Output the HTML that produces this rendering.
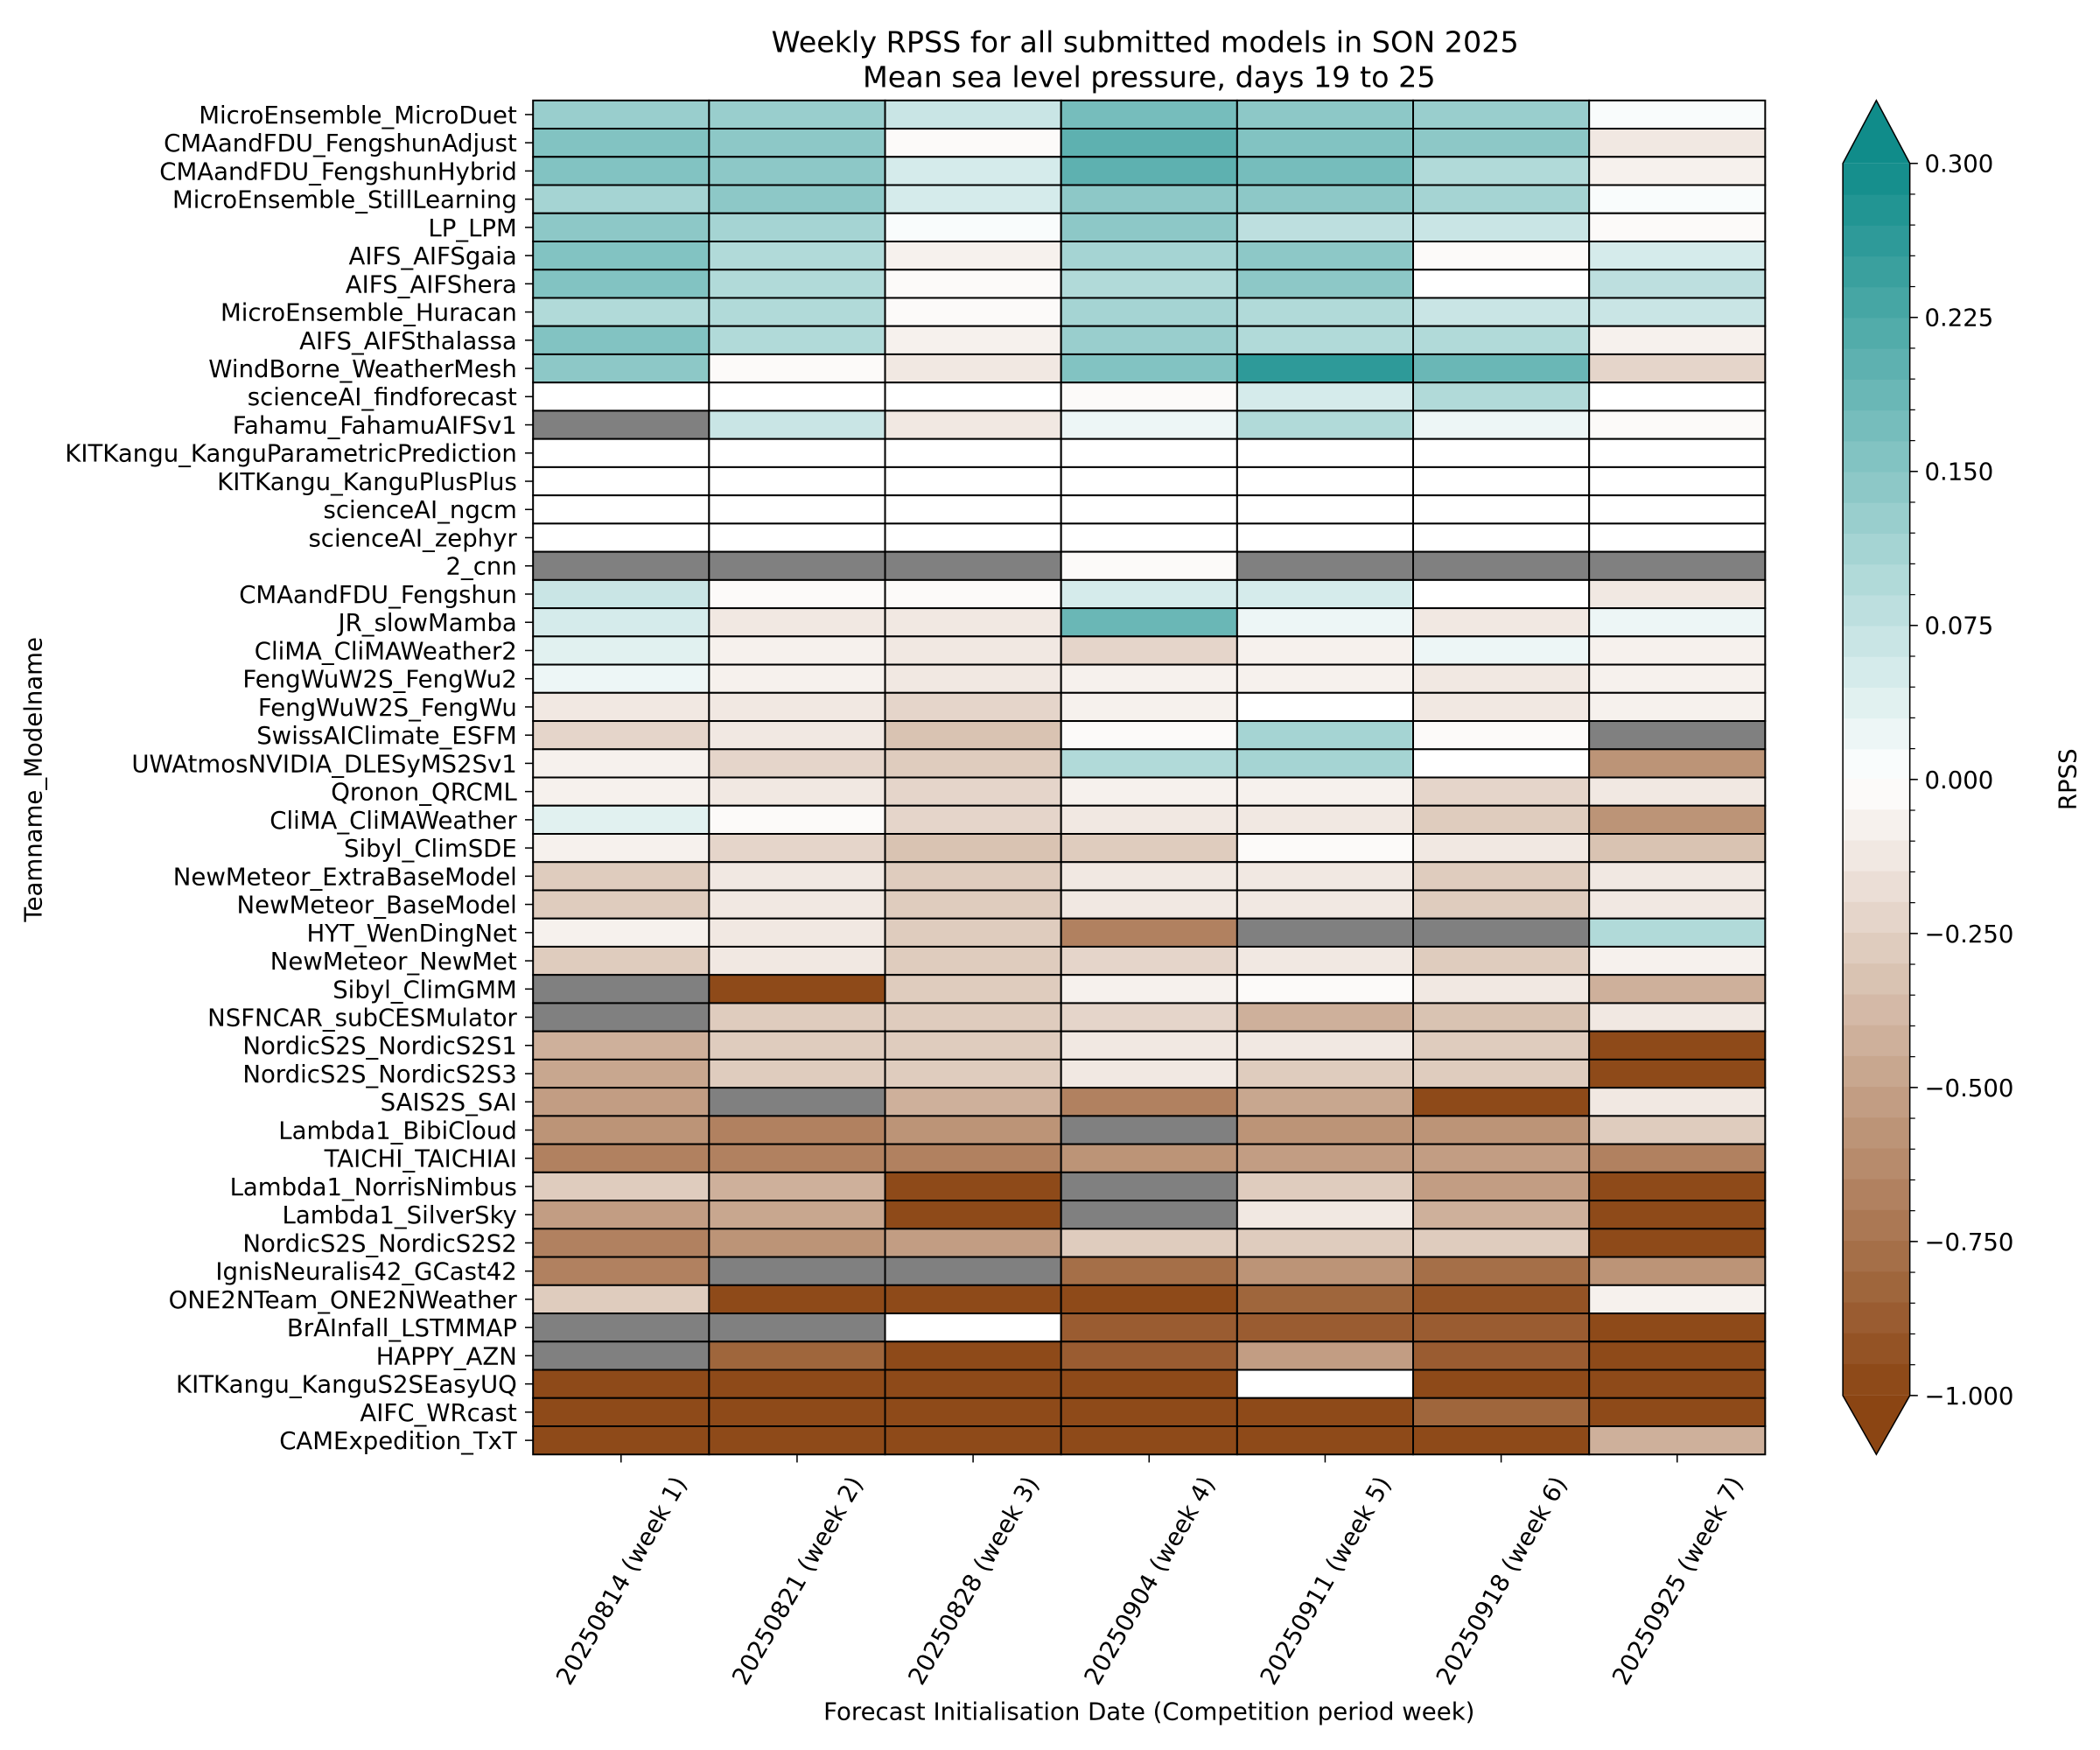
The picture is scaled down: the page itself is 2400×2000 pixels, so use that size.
<!DOCTYPE html>
<html><head><meta charset="utf-8"><style>
html,body{margin:0;padding:0;background:#fff;}
svg{display:block;font-family:"DejaVu Sans","Liberation Sans",sans-serif;}
</style></head><body>
<svg id="s" xmlns="http://www.w3.org/2000/svg" width="2400" height="2000" viewBox="0 0 1568 1306.67">
<rect width="1568" height="1306.67" fill="#fff"/>
<text x="855" y="39" font-size="21.8" text-anchor="middle">Weekly RPSS for all submitted models in SON 2025</text>
<text x="858" y="65" font-size="21.8" text-anchor="middle">Mean sea level pressure, days 19 to 25</text>
<text x="858" y="1284" font-size="18" text-anchor="middle">Forecast Initialisation Date (Competition period week)</text>
<text transform="translate(31,582) rotate(-90)" font-size="18" text-anchor="middle">Teamname_Modelname</text>
<text transform="translate(1550,582) rotate(-90)" font-size="18" text-anchor="middle">RPSS</text>
<g id="g"></g>
</svg>
<script>
var N=null;
var names=["MicroEnsemble_MicroDuet","CMAandFDU_FengshunAdjust","CMAandFDU_FengshunHybrid","MicroEnsemble_StillLearning","LP_LPM","AIFS_AIFSgaia","AIFS_AIFShera","MicroEnsemble_Huracan","AIFS_AIFSthalassa","WindBorne_WeatherMesh","scienceAI_findforecast","Fahamu_FahamuAIFSv1","KITKangu_KanguParametricPrediction","KITKangu_KanguPlusPlus","scienceAI_ngcm","scienceAI_zephyr","2_cnn","CMAandFDU_Fengshun","JR_slowMamba","CliMA_CliMAWeather2","FengWuW2S_FengWu2","FengWuW2S_FengWu","SwissAIClimate_ESFM","UWAtmosNVIDIA_DLESyMS2Sv1","Qronon_QRCML","CliMA_CliMAWeather","Sibyl_ClimSDE","NewMeteor_ExtraBaseModel","NewMeteor_BaseModel","HYT_WenDingNet","NewMeteor_NewMet","Sibyl_ClimGMM","NSFNCAR_subCESMulator","NordicS2S_NordicS2S1","NordicS2S_NordicS2S3","SAIS2S_SAI","Lambda1_BibiCloud","TAICHI_TAICHIAI","Lambda1_NorrisNimbus","Lambda1_SilverSky","NordicS2S_NordicS2S2","IgnisNeuralis42_GCast42","ONE2NTeam_ONE2NWeather","BrAInfall_LSTMMAP","HAPPY_AZN","KITKangu_KanguS2SEasyUQ","AIFC_WRcast","CAMExpedition_TxT"];
var V=[
[.12,.13,.06,.17,.14,.13,.01],
[.15,.14,-.02,.2,.15,.14,-.12],
[.15,.14,.05,.2,.17,.1,-.06],
[.11,.14,.05,.14,.14,.11,.01],
[.14,.11,.01,.14,.08,.06,-.02],
[.16,.1,-.06,.11,.14,-.02,.05],
[.16,.09,-.03,.1,.14,0,.08],
[.09,.09,-.03,.11,.09,.06,.06],
[.16,.1,-.05,.12,.1,.1,-.05],
[.14,-.03,-.1,.16,.26,.18,-.22],
[0,0,0,-.03,.05,.09,0],
[N,.06,-.1,.02,.1,.02,-.02],
[0,0,0,0,0,0,0],[0,0,0,0,0,0,0],[0,0,0,0,0,0,0],[0,0,0,0,0,0,0],
[N,N,N,-.03,N,N,N],
[.07,-.03,-.03,.05,.05,0,-.1],
[.05,-.1,-.1,.18,.02,-.1,.02],
[.03,-.05,-.12,-.2,-.05,.02,-.07],
[.02,-.08,-.15,-.05,-.08,-.15,-.08],
[-.12,-.15,-.2,-.05,0,-.12,-.08],
[-.2,-.15,-.35,-.03,.11,-.03,N],
[-.07,-.2,-.25,.09,.11,0,-.6],
[-.05,-.1,-.2,-.08,-.05,-.2,-.15],
[.04,-.02,-.2,-.15,-.1,-.25,-.55],
[-.07,-.2,-.35,-.25,-.03,-.15,-.35],
[-.3,-.15,-.3,-.15,-.15,-.25,-.1],
[-.25,-.15,-.3,-.15,-.15,-.25,-.1],
[-.05,-.15,-.3,-.65,N,N,.09],
[-.3,-.15,-.3,-.2,-.15,-.25,-.05],
[N,-1,-.3,-.05,-.02,-.1,-.4],
[N,-.3,-.25,-.2,-.4,-.35,-.1],
[-.4,-.3,-.25,-.1,-.15,-.3,-1],
[-.45,-.25,-.25,-.15,-.25,-.3,-1],
[-.5,N,-.4,-.7,-.45,-1,-.1],
[-.6,-.65,-.55,N,-.55,-.6,-.3],
[-.65,-.65,-.65,-.6,-.5,-.5,-.7],
[-.25,-.4,-1,N,-.25,-.5,-1],
[-.5,-.45,-1,N,-.1,-.4,-1],
[-.7,-.55,-.5,-.3,-.3,-.3,-1],
[-.7,N,N,-.75,-.55,-.75,-.6],
[-.25,-1,-1,-1,-.8,-.9,-.07],
[N,N,0,-.85,-.85,-.85,-1],
[N,-.8,-1,-.85,-.5,-.85,-1],
[-1,-1,-1,-1,0,-1,-1],
[-1,-1,-1,-1,-1,-.8,-1],
[-1,-1,-1,-1,-1,-1,-.4]];
var T=[16,140,138],B=[139,69,19];
function mix(c,t){return 'rgb('+[0,1,2].map(function(i){return Math.round(255+(c[i]-255)*t)}).join(',')+')';}
function col(v){
 if(v===null)return '#808080';
 if(v===0)return '#ffffff';
 if(v>0){var k=Math.min(19,Math.floor(v/0.015));return mix(T,(k+0.5)/20);}
 var k=Math.min(19,Math.floor(-v/0.05));return mix(B,(k+0.5)/20);
}
var h='';
var x0=398,x1=1318,y0=75,y1=1086,cw=(x1-x0)/7,rh=(y1-y0)/48;
for(var r=0;r<48;r++){for(var c=0;c<7;c++){
 h+='<rect x="'+(x0+c*cw)+'" y="'+(y0+r*rh)+'" width="'+cw+'" height="'+rh+'" fill="'+col(V[r][c])+'" stroke="#000" stroke-width="1.3"/>';}
 var yc=y0+(r+.5)*rh;
 h+='<line x1="392" x2="398" y1="'+yc+'" y2="'+yc+'" stroke="#000"/>';
 h+='<text x="386" y="'+(yc+6.5)+'" font-size="18" text-anchor="end">'+names[r]+'</text>';
}
var dates=["20250814","20250821","20250828","20250904","20250911","20250918","20250925"];
for(var c=0;c<7;c++){var xc=x0+(c+.5)*cw;
 h+='<line x1="'+xc+'" x2="'+xc+'" y1="1086" y2="1092" stroke="#000"/>';
 h+='<text transform="translate('+xc+',1180) rotate(-60)" font-size="18" text-anchor="middle" dy="6.5">'+dates[c]+' (week '+(c+1)+')</text>';}
var bx=1376,bw=50;
function yv(v){return v>=0?582-v/0.3*460:582-v*460;}
for(var k=0;k<20;k++){var a=yv(k*0.015),b=yv((k+1)*0.015);
 h+='<rect x="'+bx+'" y="'+b+'" width="'+bw+'" height="'+(a-b+0.5)+'" fill="'+mix(T,(k+0.5)/20)+'"/>';
 a=yv(-k*0.05);b=yv(-(k+1)*0.05);
 h+='<rect x="'+bx+'" y="'+(a-0.5)+'" width="'+bw+'" height="'+(b-a+0.5)+'" fill="'+mix(B,(k+0.5)/20)+'"/>';}
h+='<polygon points="1376,122 1426,122 1401,75" fill="'+mix(T,1)+'"/>';
h+='<polygon points="1376,1042 1426,1042 1401,1086" fill="'+mix(B,1)+'"/>';
h+='<polygon points="1376,122 1401,75 1426,122 1426,1042 1401,1086 1376,1042" fill="none" stroke="#000" stroke-width="1"/>';
for(var k=0;k<=20;k++){[k*0.015,-k*0.05].forEach(function(v){var y=yv(v);h+='<line x1="1426" x2="1430" y1="'+y+'" y2="'+y+'" stroke="#000" stroke-width="0.8"/>';});}
[[0.3,"0.300"],[0.225,"0.225"],[0.15,"0.150"],[0.075,"0.075"],[0,"0.000"],[-0.25,"\u22120.250"],[-0.5,"\u22120.500"],[-0.75,"\u22120.750"],[-1,"\u22121.000"]].forEach(function(t){var y=yv(t[0]);
 h+='<line x1="1426" x2="1432" y1="'+y+'" y2="'+y+'" stroke="#000"/>';
 h+='<text x="1437" y="'+(y+6.5)+'" font-size="18">'+t[1]+'</text>';});
document.getElementById('g').innerHTML=h;
</script>
</body></html>
